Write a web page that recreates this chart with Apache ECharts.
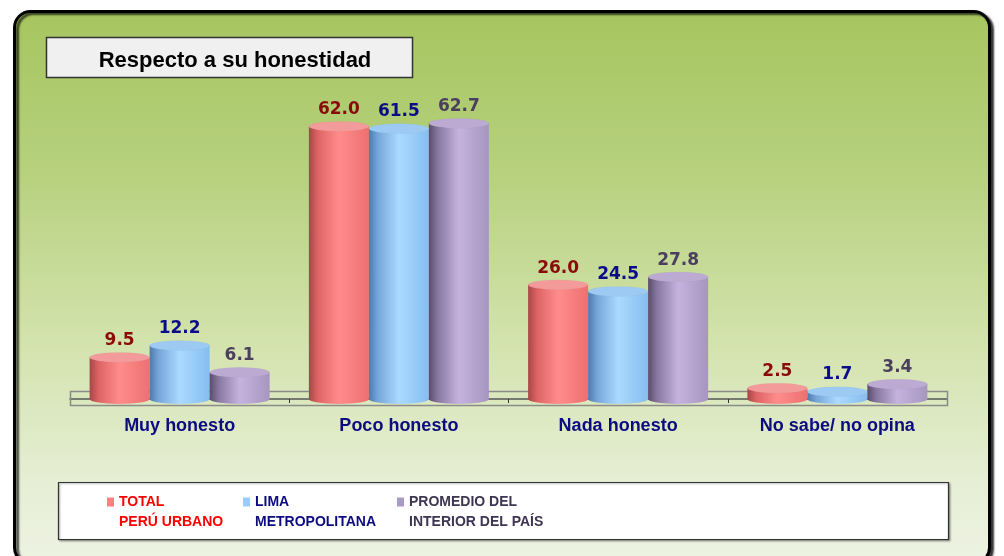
<!DOCTYPE html>
<html>
<head>
<meta charset="utf-8">
<script src="https://cdn.jsdelivr.net/npm/echarts@6/dist/echarts.min.js"></script>
<style>
  html, body { margin: 0; padding: 0; background: #fff; }
  #chart { width: 1004px; height: 556px; }
</style>
</head>
<body>
<div id="chart"></div>
<script>
const categories = ["Muy honesto", "Poco honesto", "Nada honesto", "No sabe/ no opina"];
const seriesNames = ["TOTAL\nPERÚ URBANO", "LIMA\nMETROPOLITANA", "PROMEDIO DEL\nINTERIOR DEL PAÍS"];
const totalPeru = [9.5, 62.0, 26.0, 2.5];
const limaMetro = [12.2, 61.5, 24.5, 1.7];
const interiorPais = [6.1, 62.7, 27.8, 3.4];
const chartTitle = "Respecto a su honestidad";

const values = [totalPeru, limaMetro, interiorPais];
const bodyStops = [
  ["#a84646", "#de6464", "#ff8c8c", "#ee7070"],
  ["#4f7aab", "#76a6da", "#aadaff", "#86bdf0"],
  ["#5a4c6c", "#8878a0", "#c6b2de", "#a696be"]
];
const topColors = ["#f39a9a", "#9ccaf2", "#bcaad2"];
const labelColors = ["#8b0a0a", "#0c0c8a", "#4a3f5c"];
const legendText = ["#ff0000", "#0c0c80", "#3e3552"];
const legendIcon = ["#ff8080", "#99ccff", "#a99bc6"];
const legendLeft = [107, 243, 397];

const myChart = echarts.init(document.getElementById("chart"));

function bodyColor(s) {
  const c = bodyStops[s];
  return new echarts.graphic.LinearGradient(0, 0, 1, 0, [
    { offset: 0, color: c[0] },
    { offset: 0.15, color: c[1] },
    { offset: 0.5, color: c[2] },
    { offset: 1, color: c[3] }
  ]);
}

const series = [];
// bodies
values.forEach((v, s) => {
  series.push({
    name: seriesNames[s],
    type: "bar",
    data: v,
    barWidth: 60,
    barGap: "0%",
    itemStyle: { color: bodyColor(s) },
    label: {
      show: true,
      position: "top",
      distance: 8,
      color: labelColors[s],
      fontFamily: "DejaVu Sans",
      fontWeight: "bold",
      fontSize: 17,
      formatter: p => p.value.toFixed(1)
    },
    z: 3
  });
});
// bottoms and tops of the cylinders, all pictorial bars share the category centre
values.forEach((v, s) => {
  series.push({
    type: "pictorialBar",
    data: v,
    symbol: "circle",
    symbolSize: [60, 10],
    symbolPosition: "start",
    symbolOffset: [(s - 1) * 60, "50%"],
    barWidth: 60,
    barGap: "-100%",
    itemStyle: { color: bodyColor(s) },
    silent: true,
    z: 2
  });
  series.push({
    type: "pictorialBar",
    data: v,
    symbol: "circle",
    symbolSize: [60, 10],
    symbolPosition: "end",
    symbolOffset: [(s - 1) * 60, "-50%"],
    barWidth: 60,
    barGap: "-100%",
    itemStyle: { color: topColors[s], borderColor: "rgba(90,90,90,0.35)", borderWidth: 1 },
    silent: true,
    z: 4
  });
});

myChart.setOption({
  animation: false,
  title: {
    text: chartTitle,
    left: 230,
    top: 45,
    textAlign: "center",
    textStyle: { fontFamily: "Arial", fontWeight: "bold", fontSize: 22, color: "#000" }
  },
  legend: seriesNames.map((n, i) => ({
    left: legendLeft[i],
    top: 472,
    padding: 0,
    itemWidth: 7,
    itemHeight: 9,
    icon: "rect",
    selectedMode: false,
    formatter: name => " \n" + name,
    textStyle: {
      fontFamily: "Arial",
      fontWeight: "bold",
      fontSize: 14,
      lineHeight: 20
    },
    data: [{
      name: n,
      itemStyle: { color: legendIcon[i] },
      textStyle: { color: legendText[i] }
    }]
  })),
  grid: { left: 70, right: 57, top: 91, bottom: 157 },
  xAxis: {
    type: "category",
    data: categories,
    offset: 6,
    axisLine: { lineStyle: { color: "#555", width: 1.5 } },
    axisTick: { show: true, length: 4, lineStyle: { color: "#333" } },
    axisLabel: {
      margin: 12,
      color: "#0c0c80",
      fontFamily: "Arial",
      fontWeight: "bold",
      fontSize: 18
    }
  },
  yAxis: {
    type: "value",
    min: 0,
    max: 70,
    show: false
  },
  graphic: [
    {
      type: "rect",
      z: -10,
      silent: true,
      shape: { x: 14.5, y: 11.5, width: 975, height: 552, r: 16 },
      style: {
        fill: new echarts.graphic.LinearGradient(0, 0, 0, 1, [
          { offset: 0, color: "#a6c55e" },
          { offset: 0.3, color: "#b7d17f" },
          { offset: 0.6, color: "#d3e3ad" },
          { offset: 0.85, color: "#e6eed4" },
          { offset: 1, color: "#eef3e3" }
        ]),
        stroke: "#000",
        lineWidth: 3,
        shadowColor: "rgba(0,0,0,0.7)",
        shadowOffsetX: 3,
        shadowOffsetY: 2,
        shadowBlur: 2
      }
    },
    {
      type: "rect",
      z: 1,
      silent: true,
      shape: { x: 46.5, y: 37.5, width: 366, height: 40 },
      style: { fill: "#f0f0f0", stroke: "#333", lineWidth: 1.5 }
    },
    {
      type: "rect",
      z: 1,
      silent: true,
      shape: { x: 70.5, y: 391.5, width: 877, height: 14 },
      style: { fill: "none", stroke: "#8a8a8a", lineWidth: 1.5 }
    },
    {
      type: "rect",
      z: 1,
      silent: true,
      shape: { x: 58.5, y: 482.5, width: 890, height: 57 },
      style: {
        fill: "#fff",
        stroke: "#333",
        lineWidth: 1.2,
        shadowColor: "rgba(0,0,0,0.35)",
        shadowOffsetX: 1,
        shadowOffsetY: 1,
        shadowBlur: 2
      }
    }
  ],
  series
});
</script>
</body>
</html>
